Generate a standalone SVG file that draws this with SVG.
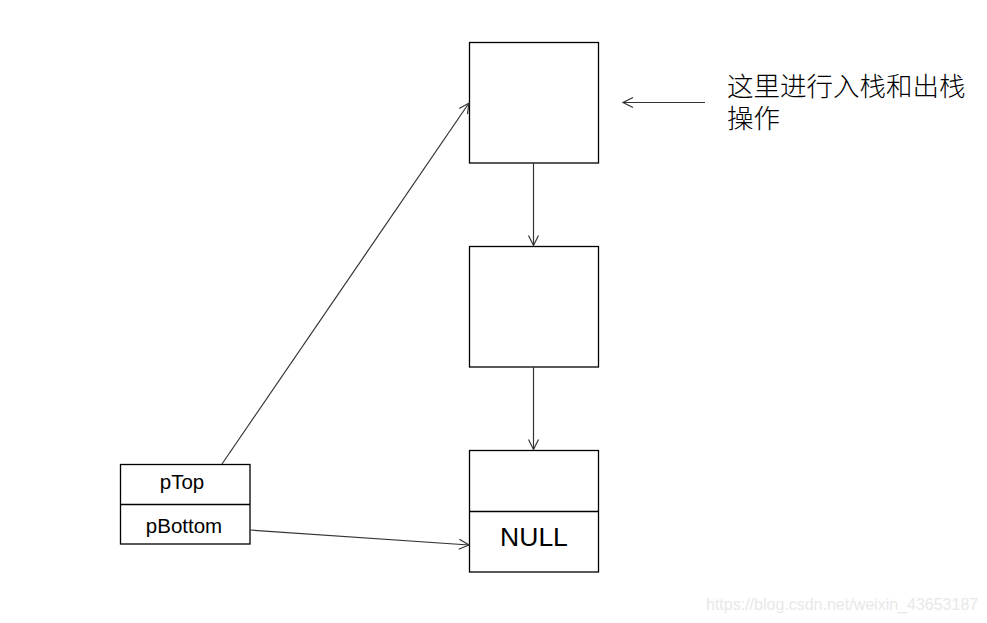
<svg xmlns="http://www.w3.org/2000/svg" width="987" height="623" viewBox="0 0 987 623">
<style>
.box{fill:#fff;stroke:#000;stroke-width:1.3}
.ln{stroke:#333;stroke-width:1.2;fill:none}
.t{font-family:"Liberation Sans",Arial,sans-serif;fill:#000}
.cn{font-family:"Liberation Sans","Noto Sans CJK SC",sans-serif;font-size:26.5px;font-weight:300;fill:#000}
</style>
<defs>
<marker id="ah" markerWidth="14" markerHeight="12" refX="11" refY="6" orient="auto" markerUnits="userSpaceOnUse">
<path d="M1,1 L11,6 L1,11" fill="none" stroke="#333" stroke-width="1.2"/>
</marker>
</defs>
<rect width="987" height="623" fill="#fff"/>
<g id="node1"><rect class="box" x="469.5" y="42.5" width="129" height="120.5"/></g>
<g id="node2"><rect class="box" x="469.5" y="246.5" width="129" height="120.5"/></g>
<g id="node3"><rect class="box" x="469.5" y="450.5" width="129" height="121.5"/><line class="box" x1="469.5" y1="511.5" x2="598.5" y2="511.5"/><text class="t" x="534" y="546" font-size="26.5" text-anchor="middle">NULL</text></g>
<g id="stack"><rect class="box" x="120.5" y="464.5" width="129.5" height="79.5"/><line class="box" x1="120.5" y1="504.5" x2="250" y2="504.5"/><text class="t" x="182" y="489" font-size="20.5" text-anchor="middle">pTop</text><text class="t" x="184" y="533" font-size="20.5" text-anchor="middle">pBottom</text></g>
<g id="label"><text class="cn" x="727" y="96">这里进行入栈和出栈</text><text class="cn" x="727" y="128">操作</text></g>
<g id="connectors">
<line class="ln" x1="533.5" y1="163" x2="533.5" y2="245.5" marker-end="url(#ah)" stroke="#666"/>
<line class="ln" x1="533.5" y1="367" x2="533.5" y2="449.5" marker-end="url(#ah)" stroke="#666"/>
<line class="ln" x1="705" y1="102.5" x2="623" y2="102.5" marker-end="url(#ah)"/>
<line class="ln" x1="222" y1="464" x2="469" y2="103" marker-end="url(#ah)"/>
<line class="ln" x1="250" y1="530" x2="469" y2="545" marker-end="url(#ah)"/>
</g>
<text x="706" y="610" font-family="Liberation Sans,Arial,sans-serif" font-size="16" fill="#e8e8e8">https://blog.csdn.net/weixin_43653187</text>
</svg>
